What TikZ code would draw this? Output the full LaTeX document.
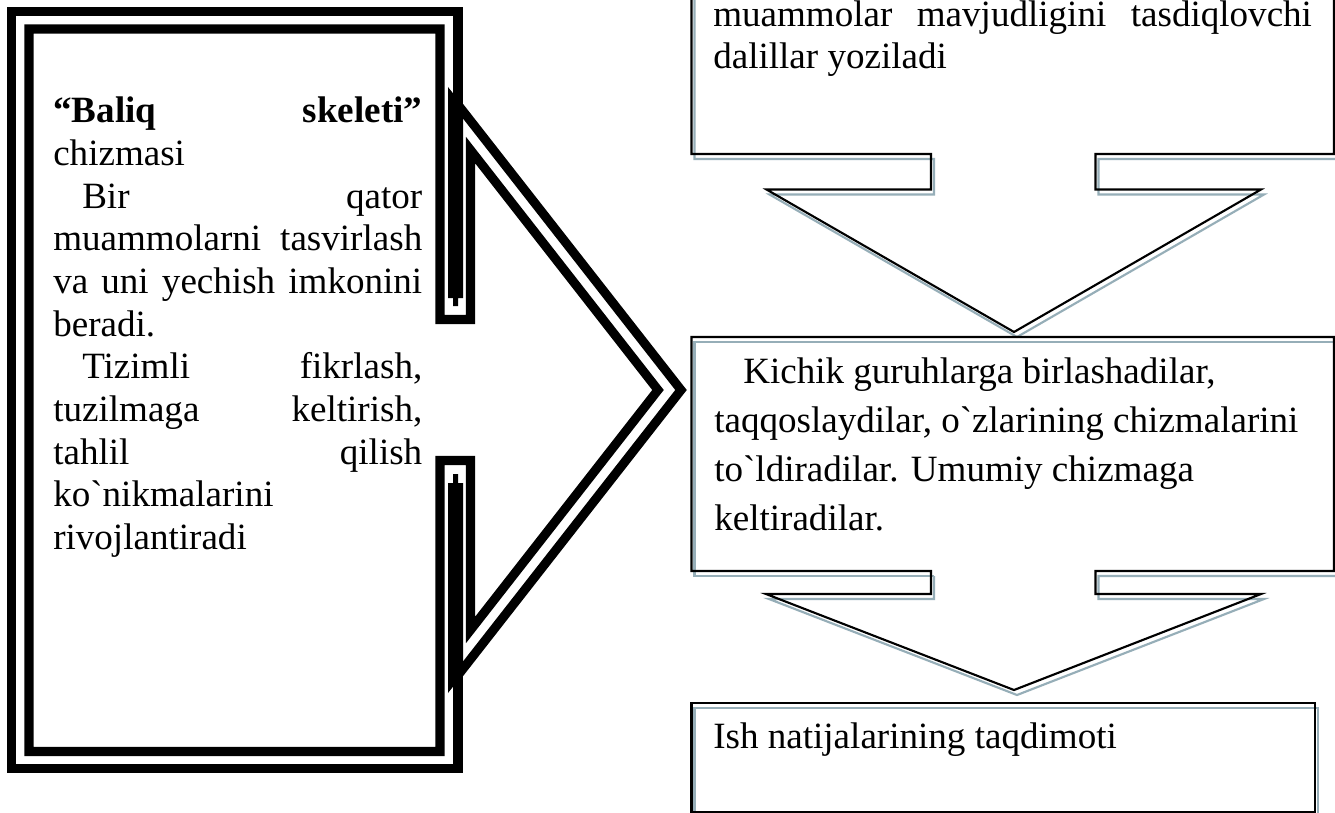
\documentclass[tikz,border=0pt]{standalone}
\usepackage{fontspec}
\setmainfont{Liberation Serif}[Ligatures=TeXOff]
\definecolor{shadowblue}{HTML}{96AEB8}
\newcommand{\jline}[2]{\hbox to #1{\spaceskip=0.25em plus 1fil\relax #2}}
\tikzset{
  heavy/.style={line width=6.8pt,miter limit=20,line join=miter},
  blackline/.style={line width=1.6pt,black,line join=miter,miter limit=20},
  shadeline/.style={line width=1.6pt,shadowblue,line join=miter,miter limit=20},
  textblock/.style={anchor=north west,inner sep=0pt,align=left,font=\fontsize{27.8pt}{#1}\selectfont}
}
\begin{document}
\begin{tikzpicture}[x=0.75pt,y=-0.75pt]
\useasboundingbox (0,0) rectangle (1335,813);
\fill[white] (0,0) rectangle (1335,813);
% left pentagon, double heavy line
\draw[heavy] (458,298) -- (458,11.5) -- (11.5,11.5) -- (11.5,768.5) -- (458,768.5) -- (458,670);
\begin{scope}
\clip (462,0) rectangle (700,813);
\draw[heavy] (430,69) -- (681,390) -- (430,711);
\end{scope}
\draw[heavy] (470.5,150) -- (470.5,319.5) -- (440,319.5) -- (440,29) -- (29,29) -- (29,751.5) -- (440,751.5) -- (440,460.5) -- (470.5,460.5) -- (470.5,630) -- (658,390) -- cycle;
\fill (448,87) -- (463,106) -- (463,298) -- (458,298) -- (458,306) -- (453,306) -- (453,298) -- (448,298) -- cycle;
\fill (448,693) -- (463,674) -- (463,483) -- (458,483) -- (458,474) -- (453,474) -- (453,483) -- (448,483) -- cycle;
% shadows, offset (3,5)
\begin{scope}[xshift=2.25pt,yshift=-3.75pt]
\draw[shadeline] (691.5,-10) -- (691.5,154) -- (931,154) -- (931,189.5) -- (766.5,189.5) -- (1014,332) -- (1261,189.5) -- (1095.5,189.5) -- (1095.5,154) -- (1345,154);
\draw[shadeline] (931,571) -- (691.5,571) -- (691.5,337) -- (1345,337);
\draw[shadeline] (1345,571) -- (1095.5,571) -- (1095.5,594) -- (1261,594) -- (1014,690) -- (766,594) -- (931,594) -- (931,571);
\draw[shadeline] (691.5,830) -- (691.5,703) -- (1315,703) -- (1315,830);
\end{scope}
% outlines
\draw[blackline] (691.5,-10) -- (691.5,154) -- (931,154) -- (931,189.5) -- (766.5,189.5) -- (1014,332) -- (1261,189.5) -- (1095.5,189.5) -- (1095.5,154) -- (1334,154) -- (1334,-10);
\draw[blackline] (931,571) -- (691.5,571) -- (691.5,337) -- (1334,337) -- (1334,571) -- (1095.5,571) -- (1095.5,594) -- (1261,594) -- (1014,690) -- (766,594) -- (931,594) -- cycle;
\draw[blackline] (691.5,830) -- (691.5,703) -- (1315,703) -- (1315,812) -- (691.5,812);
% texts
\node[textblock=32pt] (intro) at (53,97) {%
\jline{276.75pt}{\textbf{“Baliq skeleti”}}\\
chizmasi\\
\jline{276.75pt}{\hspace*{21.75pt}Bir qator}\\
\jline{276.75pt}{muammolarni tasvirlash}\\
\jline{276.75pt}{va uni yechish imkonini}\\
beradi.\\
\jline{276.75pt}{\hspace*{21.75pt}Tizimli fikrlash,}\\
\jline{276.75pt}{tuzilmaga keltirish,}\\
\jline{276.75pt}{tahlil qilish}\\
ko`nikmalarini\\
rivojlantiradi};
\node[textblock=31.5pt] (evidence) at (713,1) {%
\jline{449pt}{muammolar mavjudligini tasdiqlovchi}\\
dalillar yoziladi};
\node[textblock=36.6pt] (groups) at (714,358) {%
\hspace*{21.75pt}Kichik guruhlarga birlashadilar,\\
taqqoslaydilar, o`zlarining chizmalarini\\
to`ldiradilar. Umumiy chizmaga\\
keltiradilar.};
\node[textblock=31.5pt] (result) at (713,723) {Ish natijalarining taqdimoti};
\end{tikzpicture}
\end{document}
